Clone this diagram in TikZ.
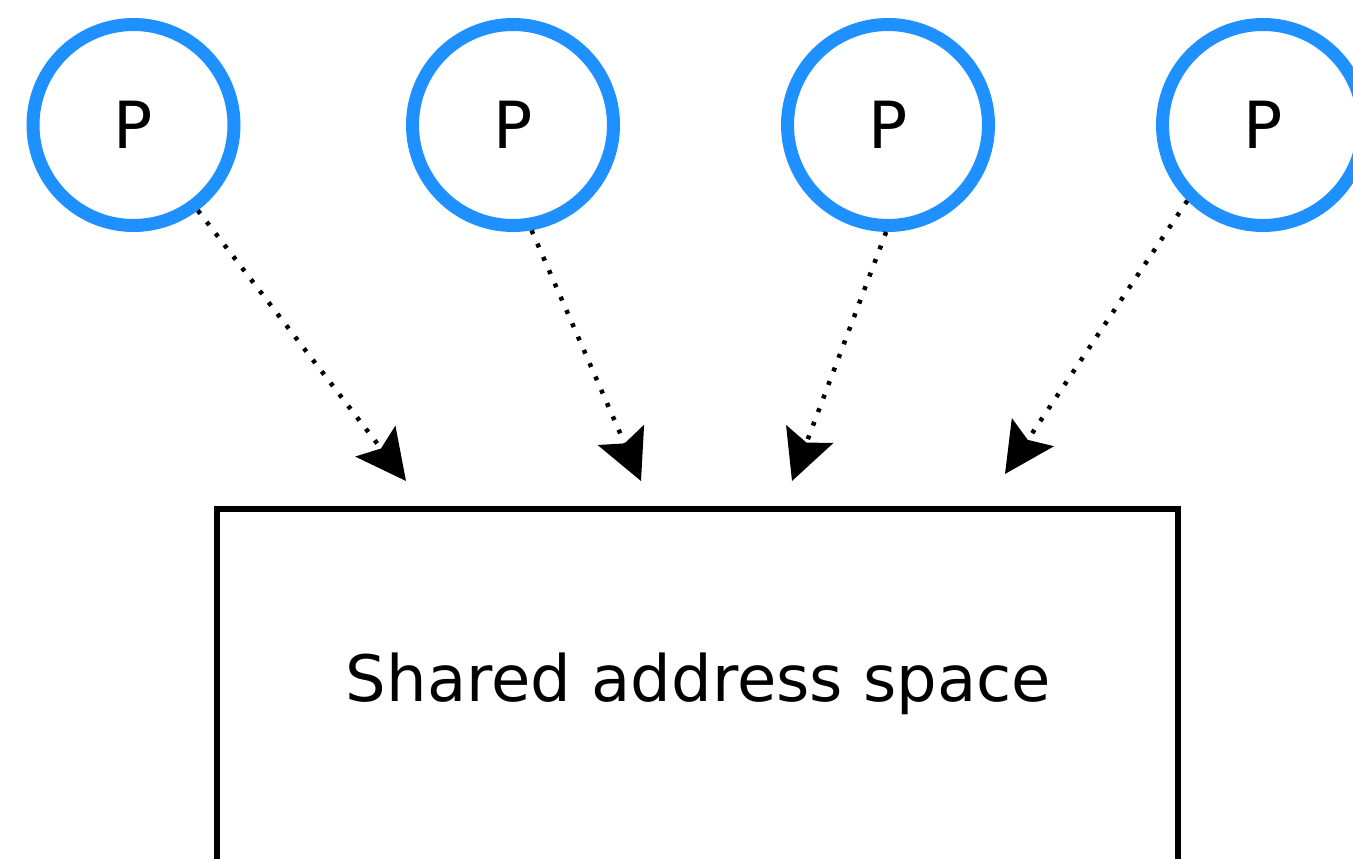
\documentclass[tikz,border=0pt]{standalone}
\usepackage{fontspec}
\setmainfont{DejaVu Sans}
\usetikzlibrary{arrows.meta}
\definecolor{procblue}{RGB}{30,144,255}
\tikzset{
  proc/.style={circle, draw=procblue, line width=13pt, minimum size=201pt, inner sep=0pt,
    font=\fontsize{65}{80}\selectfont},
  membox/.style={draw=black, line width=6pt, minimum width=961pt, minimum height=400pt, inner sep=0pt},
  memlabel/.style={font=\fontsize{64}{80}\selectfont, inner sep=0pt},
  access/.style={line width=4.5pt, dash pattern=on 4pt off 10.5pt,
    -{Stealth[length=50pt, width=50pt, inset=9pt]}}
}
\begin{document}
\begin{tikzpicture}[x=1pt, y=-1pt]
  \useasboundingbox (0,0) rectangle (1353,859);
  \clip (0,0) rectangle (1353,859);

  % processors
  \node[proc] (p1) at (133.5,125) {P};
  \node[proc] (p2) at (513,125) {P};
  \node[proc] (p3) at (888,125) {P};
  \node[proc] (p4) at (1263,125) {P};

  % shared memory
  \node[membox] (mem) at (697.5,709) {};
  \node[memlabel] (lbl) at (698.5,684) {Shared address space};

  % arrow ends just above the memory block
  \coordinate (t1) at (406,481);
  \coordinate (t2) at (641,481);
  \coordinate (t3) at (792,481);
  \coordinate (t4) at (1005,474);

  \draw[access] (p1.-53) -- (t1);
  \draw[access] (p2.-80) -- (t2);
  \draw[access] (p3.-91) -- (t3);
  \draw[access] (p4.-135) -- (t4);
\end{tikzpicture}
\end{document}
